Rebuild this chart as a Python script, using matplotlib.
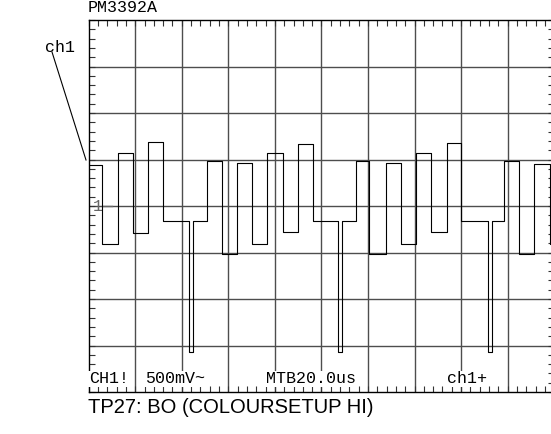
import numpy as np
import matplotlib.pyplot as plt
from matplotlib.lines import Line2D

# --- Datos de la traza (leídos de la pantalla del osciloscopio) ---
# tiempo de cada transición (us) y nivel después de la transición (V)
t_us = [0.0, 5.8, 12.7, 18.9, 25.5, 31.8, 43.3, 44.9, 50.7, 57.1, 63.6,
        70.1, 76.7, 83.3, 89.8, 96.2, 107.3, 109.0, 114.8, 120.5, 127.7,
        134.0, 140.5, 147.0, 153.8, 159.9, 171.7, 173.1, 178.5, 185.0, 191.4,
        198.2, 200.0]
nivel_v = [0.44, -0.41, 0.57, -0.29, 0.69, -0.16, -1.57, -0.16, 0.48, -0.52, 0.46,
           -0.41, 0.57, -0.28, 0.67, -0.16, -1.57, -0.16, 0.48, -0.52, 0.46,
           -0.41, 0.57, -0.28, 0.68, -0.16, -1.57, -0.16, 0.48, -0.52, 0.45,
           -0.41, -0.41]

# escalas de pantalla
US_DIV = 20.0      # MTB 20.0us
V_DIV = 0.5        # 500mV
N_DIV_X = 10
N_DIV_Y = 8

titulo = 'PM3392A'
etiquetas_abajo = [('CH1!', 0.0), ('500mV~', 1.2), ('MTB20.0us', 3.8), ('ch1+', 7.7)]
pie = 'TP27: BO (COLOURSETUP HI)'

MONO = 'Liberation Mono'
SANS = 'Liberation Sans'

W, H = 551, 434
fig = plt.figure(figsize=(W / 100, H / 100), dpi=100)
ax = fig.add_axes([88.7 / W, (H - 392) / H, 465.5 / W, 372 / H])

xmax = US_DIV * N_DIV_X
ymax = V_DIV * N_DIV_Y / 2
ax.set_xlim(0, xmax)
ax.set_ylim(-ymax, ymax)

# rejilla
for i in range(1, N_DIV_X):
    ax.axvline(i * US_DIV, color='0.3', lw=1.0, zorder=1)
for j in range(1, N_DIV_Y):
    ax.axhline(-ymax + j * V_DIV, color='0.3', lw=1.0, zorder=1)

# marcas menores (5 por división) hacia dentro
ax.set_xticks([])
ax.set_yticks([])
ax.set_xticks(np.arange(0, xmax + 0.01, US_DIV / 5), minor=True)
ax.set_yticks(np.arange(-ymax, ymax + 0.01, V_DIV / 5), minor=True)
ax.tick_params(which='minor', direction='in', length=4, width=0.8, color='0.2',
               top=True, right=True, labelbottom=False, labelleft=False)
for s in ax.spines.values():
    s.set_linewidth(1.0)
    s.set_color('black')

# traza
ax.step(t_us, nivel_v, where='post', color='black', lw=0.8, zorder=4)

# marcador de canal 1 en el centro
ax.text(0.008, 0.0, '1', family=MONO, fontsize=12, color='0.4',
        ha='left', va='center', transform=ax.get_yaxis_transform(), zorder=3)
ax.plot([0.028, 0.05], [0, 0], color='0.4', lw=1.0,
        transform=ax.get_yaxis_transform(), zorder=3)

# textos de la pantalla
for txt, xd in etiquetas_abajo:
    ax.text(xd * US_DIV, -ymax + 0.06, txt, family=MONO, fontsize=12,
            ha='left', va='bottom', zorder=5,
            bbox=dict(facecolor='white', edgecolor='none', pad=0.3))

fig.text(88 / W, 1 - 12 / H, titulo, family=MONO, fontsize=12,
         ha='left', va='baseline')
fig.text(45 / W, 1 - 52 / H, 'ch1', family=MONO, fontsize=12,
         ha='left', va='baseline')
fig.add_artist(Line2D([52 / W, 86 / W], [1 - 52 / H, 1 - 160 / H],
                      color='black', lw=0.8))

fig.text(88 / W, 1 - 413 / H, pie, family=SANS, fontsize=14.5,
         ha='left', va='baseline')

fig.savefig('out.png', dpi=100)
